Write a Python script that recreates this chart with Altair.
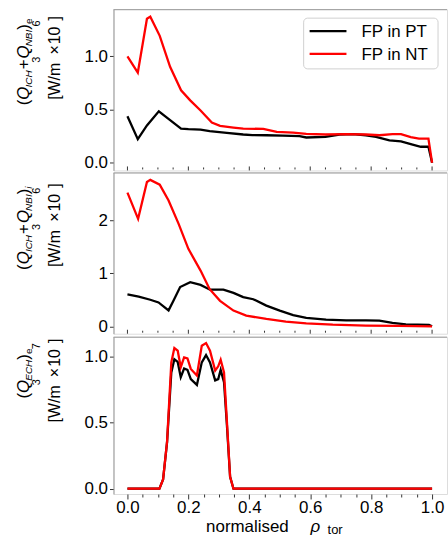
import altair as alt
import pandas as pd

# ---- profiles vs normalised toroidal rho ----
# (Q_ICH + Q_NBI)_e  [W/m^3 x 1e6]
rho_e_pt = [0.0, 0.034, 0.064, 0.103, 0.14, 0.176, 0.2, 0.24, 0.27, 0.326, 0.38, 0.41, 0.456,
            0.51, 0.565, 0.587, 0.65, 0.696, 0.74, 0.783, 0.816, 0.86, 0.898, 0.936, 0.963, 0.988, 1.0]
qe_pt = [0.436, 0.221, 0.35, 0.483, 0.40, 0.32, 0.315, 0.31, 0.296, 0.28, 0.265, 0.26, 0.258,
         0.255, 0.25, 0.237, 0.243, 0.265, 0.268, 0.258, 0.243, 0.21, 0.2, 0.17, 0.15, 0.15, 0.0]
rho_e_nt = [0.0, 0.034, 0.064, 0.075, 0.106, 0.14, 0.176, 0.206, 0.24, 0.277, 0.304, 0.348, 0.38,
            0.446, 0.49, 0.544, 0.587, 0.65, 0.718, 0.783, 0.827, 0.87, 0.898, 0.93, 0.957, 0.988, 1.0]
qe_nt = [0.997, 0.845, 1.35, 1.37, 1.19, 0.90, 0.68, 0.585, 0.49, 0.377, 0.346, 0.33, 0.32,
         0.318, 0.29, 0.283, 0.27, 0.265, 0.268, 0.265, 0.258, 0.268, 0.268, 0.24, 0.227, 0.227, 0.0]

# (Q_ICH + Q_NBI)_i  [W/m^3 x 1e6]
rho_i_pt = [0.0, 0.037, 0.075, 0.102, 0.135, 0.151, 0.173, 0.206, 0.24, 0.271, 0.315, 0.348, 0.38,
            0.413, 0.456, 0.5, 0.544, 0.587, 0.652, 0.718, 0.783, 0.827, 0.87, 0.914, 0.99, 1.0]
qi_pt = [0.60, 0.56, 0.50, 0.45, 0.30, 0.48, 0.74, 0.83, 0.78, 0.69, 0.69, 0.63, 0.55,
         0.51, 0.39, 0.296, 0.21, 0.157, 0.126, 0.113, 0.113, 0.107, 0.063, 0.038, 0.025, 0.0]
rho_i_nt = [0.0, 0.035, 0.064, 0.075, 0.106, 0.135, 0.168, 0.2, 0.24, 0.27, 0.304, 0.348, 0.39,
            0.456, 0.52, 0.587, 0.674, 0.783, 0.89, 1.0]
qi_nt = [2.52, 2.025, 2.72, 2.76, 2.67, 2.37, 1.93, 1.46, 1.05, 0.70, 0.48, 0.296, 0.2,
         0.138, 0.088, 0.057, 0.031, 0.013, 0.006, 0.0]

# (Q_ECH)_e  [W/m^3 x 1e7]
rho_ech = [0.0, 0.105, 0.117, 0.13, 0.144, 0.154, 0.165, 0.175, 0.186, 0.197, 0.208, 0.228,
           0.244, 0.258, 0.271, 0.288, 0.298, 0.306, 0.317, 0.326, 0.337, 0.348, 1.0]
qech_pt = [0.0, 0.0, 0.07, 0.35, 0.88, 0.98, 0.96, 0.845, 0.91, 0.90, 0.83, 0.786,
           0.957, 1.012, 0.957, 0.82, 0.83, 0.90, 0.806, 0.50, 0.09, 0.0, 0.0]
qech_nt = [0.0, 0.0, 0.07, 0.354, 0.957, 1.065, 1.045, 0.92, 0.995, 0.987, 0.907, 0.857,
           1.083, 1.103, 1.045, 0.894, 0.927, 0.977, 0.88, 0.53, 0.09, 0.0, 0.0]

series_names = ["FP in PT", "FP in NT"]
series_colors = ["#000000", "#ff0000"]

FONT = "Liberation Sans"
SPINE = "#9a9a9a"
W, H_TOP, H_BOT = 335, 162, 158
X_DOMAIN = [-0.0458, 1.049]
x_ticks = [round(0.05 * k, 2) for k in range(21)]
MAJOR = "abs(round(datum.value*20) % 4) == 0"

# advance widths (em/1000) used to lay out the composed axis titles
ADV = {' ': 278, '(': 333, ')': 333, '[': 278, ']': 278, '/': 278, '+': 584, '×': 584, '.': 278,
       'B': 667, 'C': 722, 'E': 667, 'H': 722, 'I': 278, 'N': 722, 'Q': 778, 'W': 944,
       'a': 556, 'd': 556, 'e': 556, 'i': 222, 'l': 222, 'm': 833, 'n': 556, 'o': 556,
       'r': 333, 's': 500, 't': 278, 'ρ': 577}


def width(s, size):
    return sum(ADV.get(c, 556) for c in s) * size / 1000.0


def blank():
    return alt.Chart(alt.Data(values=[{}]))


def text_piece(txt, px, py, size, italic, angle=0):
    kw = dict(text=txt, font=FONT, fontSize=size, color="black",
              align="left", baseline="alphabetic")
    if italic:
        kw["fontStyle"] = "italic"
    if angle:
        kw["angle"] = angle
    return blank().mark_text(**kw).encode(x=alt.value(px), y=alt.value(py))


def vertical_label(pieces, base_x, center_y):
    """pieces: (text, size, italic, shift, pad) written bottom-to-top."""
    total = sum(width(t, s) + p for t, s, it, sh, p in pieces)
    y = center_y + total / 2
    out = []
    for t, s, it, sh, p in pieces:
        y -= p
        out.append(text_piece(t, base_x - sh, y, s, it, angle=270))
        y -= width(t, s)
    return out


def unit_line(exp):
    return [("[W/m", 16, False, 0, 0), ("3", 11, False, 20, 0), ("×", 16, False, 0, 2),
            ("10", 16, False, 0, 1), (exp, 11, False, 20, 0), ("]", 16, False, 0, 0)]


def q_line(sub1, sub2, outer, outer_italic):
    p = [("(", 17, False, 0, 0), ("Q", 17, True, 0, 0), (sub1, 10, True, -3, -1)]
    if sub2:
        p += [("+", 17, False, 0, 1), ("Q", 17, True, 0, 1), (sub2, 10, True, -3, -1)]
    p += [(")", 17, False, 0, 0), (outer, 10, outer_italic, -3, 0)]
    return p


def profile_layers(rho_pt, q_pt, rho_nt, q_nt, y_domain, y_values, y_fmt, height, bottom):
    color = alt.Color("series:N", scale=alt.Scale(domain=series_names, range=series_colors),
                      legend=None)
    x_axis = None
    if bottom:
        x_axis = alt.Axis(values=x_ticks, title=None, grid=False, domain=False,
                          labelExpr=MAJOR + " ? format(datum.value, '.1f') : ''",
                          tickSize={"condition": {"test": MAJOR, "value": 5}, "value": 3},
                          tickColor="#333", labelFont=FONT, labelFontSize=17, labelColor="black",
                          labelPadding=1)
    x = alt.X("rho:Q", scale=alt.Scale(domain=X_DOMAIN, nice=False, zero=False), axis=x_axis)
    y = alt.Y("q:Q", scale=alt.Scale(domain=y_domain, nice=False, zero=False),
              axis=alt.Axis(values=y_values, format=y_fmt, title=None, grid=False,
                            domainColor=SPINE, tickColor="#333", tickSize=4,
                            labelFont=FONT, labelFontSize=17, labelColor="black", labelPadding=2))
    layers = []
    for name, rr, qq in [(series_names[0], rho_pt, q_pt), (series_names[1], rho_nt, q_nt)]:
        df = pd.DataFrame({"rho": rr, "q": qq, "series": name})
        layers.append(alt.Chart(df).mark_line(strokeWidth=2.3, clip=True).encode(
            x=x, y=y, color=color, order=alt.Order("rho:Q")))
    # top spine
    layers.append(blank().mark_rule(color=SPINE, strokeWidth=1).encode(
        x=alt.value(0), x2=alt.value(W), y=alt.value(0.5)))
    if not bottom:
        # x ticks along the shared boundary with the panel below
        tdf = pd.DataFrame({"rho": x_ticks,
                            "major": [abs(round(v * 20)) % 4 == 0 for v in x_ticks]})
        layers.append(alt.Chart(tdf).transform_filter("datum.major").mark_rule(
            color="#333", strokeWidth=1).encode(x=x, y=alt.value(height - 4), y2=alt.value(height)))
        layers.append(alt.Chart(tdf).transform_filter("!datum.major").mark_rule(
            color="#333", strokeWidth=1).encode(x=x, y=alt.value(height - 3), y2=alt.value(height - 1)))
    return layers


OX = 113
# ---- top panel ----
top = profile_layers(rho_e_pt, qe_pt, rho_e_nt, qe_nt, [-0.072, 1.44], [0.0, 0.5, 1.0], ".1f",
                     H_TOP, False)
top += vertical_label(q_line("ICH", "NBI", "e", False), 28 - OX, 60 - 7)
top += vertical_label(unit_line("6"), 59 - OX, 56 - 7)
# legend box
top.append(blank().mark_rect(fill="white", stroke="#d0d0d0", strokeWidth=1, cornerRadius=4).encode(
    x=alt.value(191), x2=alt.value(326), y=alt.value(9), y2=alt.value(60)))
for i, (name, col) in enumerate(zip(series_names, series_colors)):
    yy = 22 + 23 * i
    top.append(blank().mark_rule(color=col, strokeWidth=2.3).encode(
        x=alt.value(197), x2=alt.value(234), y=alt.value(yy)))
    top.append(blank().mark_text(
        text=name, font=FONT, fontSize=17, align="left", baseline="middle", color="black").encode(
        x=alt.value(249), y=alt.value(yy + 1)))
# figure corner anchor (top-left)
top.append(blank().mark_rule(opacity=0, strokeWidth=1).encode(
    x=alt.value(-OX), x2=alt.value(-OX + 1), y=alt.value(-7)))

# ---- middle panel ----
mid = profile_layers(rho_i_pt, qi_pt, rho_i_nt, qi_nt, [-0.14, 2.9], [0, 1, 2], "d", H_TOP, False)
mid += vertical_label(q_line("ICH", "NBI", "i", True), 28 - OX, 225 - 169)
mid += vertical_label(unit_line("6"), 59 - OX, 222 - 169)

# ---- bottom panel ----
bot = profile_layers(rho_ech, qech_pt, rho_ech, qech_nt, [-0.04, 1.151], [0.0, 0.5, 1.0], ".1f",
                     H_BOT, True)
bot += vertical_label(q_line("ECH", None, "e", False), 28 - OX, 368 - 331)
bot += vertical_label(unit_line("7"), 59 - OX, 375 - 331)
# x title: normalised rho_tor
bot.append(text_piece("normalised", 206 - OX, 527 - 331, 17, False))
bot.append(text_piece("ρ", 311 - OX, 527 - 331, 17, True))
bot.append(text_piece("tor", 328 - OX, 529 - 331, 13, False))
# figure corner anchor (bottom)
bot.append(blank().mark_rule(opacity=0, strokeWidth=1).encode(
    x=alt.value(-OX), x2=alt.value(-OX + 1), y=alt.value(535.5 - 331)))

p_top = alt.layer(*top).properties(width=W, height=H_TOP)
p_mid = alt.layer(*mid).properties(width=W, height=H_TOP)
p_bot = alt.layer(*bot).properties(width=W, height=H_BOT)

chart = alt.vconcat(p_top, p_mid, p_bot, spacing=0).properties(
    padding={"left": 0, "top": 0, "right": 0, "bottom": 0}
).configure_view(stroke=None).configure(background="white")

chart.save("out.html", embed_options={"renderer": "svg", "actions": False})
